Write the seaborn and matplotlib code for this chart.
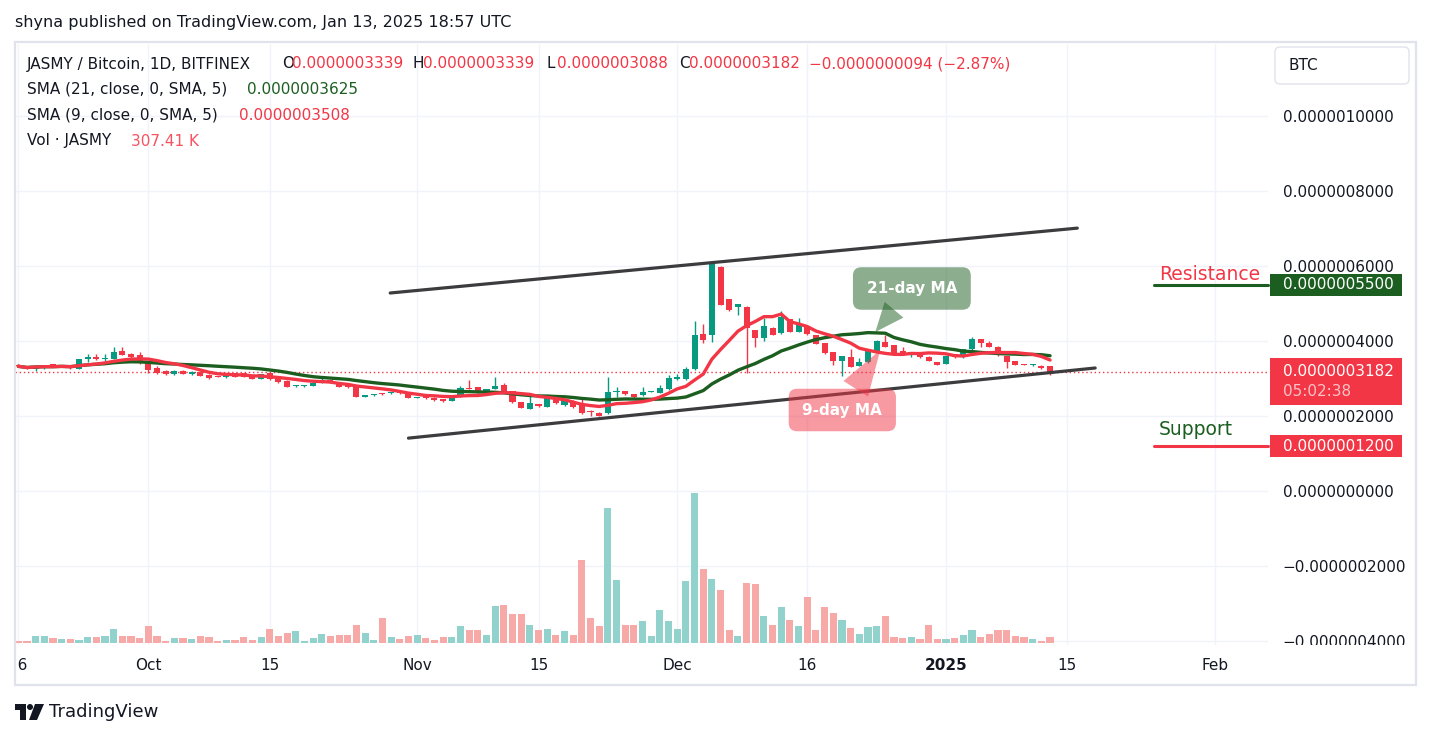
import numpy as np
import pandas as pd
import matplotlib
matplotlib.use("Agg")
import matplotlib.pyplot as plt
import matplotlib.dates as mdates
from matplotlib.patches import Rectangle, FancyBboxPatch, Polygon, Circle
from matplotlib.transforms import blended_transform_factory
import seaborn as sns

# ---------------- data (prices in units of 1e-7 BTC, volume in thousands) ----------------
first_day = "2024-09-16"
opens = [3.36, 3.298, 3.244, 3.271, 3.387, 3.333, 3.36, 3.262, 3.529, 3.564,
         3.511, 3.529, 3.733, 3.653, 3.627, 3.44, 3.28, 3.209, 3.111, 3.209,
         3.111, 3.182, 3.102, 3.06, 3.031, 3.156, 3.138, 3.093, 2.996, 3.156,
         3.013, 2.942, 2.79, 2.79, 2.809, 2.898, 2.96, 2.871, 2.827, 2.782,
         2.52, 2.551, 2.604, 2.613, 2.649, 2.631, 2.489, 2.56, 2.489, 2.453,
         2.409, 2.516, 2.747, 2.764, 2.622, 2.729, 2.827, 2.667, 2.373, 2.196,
         2.32, 2.249, 2.516, 2.293, 2.409, 2.293, 2.12, 2.089, 2.071, 2.64,
         2.658, 2.587, 2.551, 2.64, 2.622, 2.711, 2.978, 2.978, 3.244, 4.187,
         4.16, 5.982, 5.111, 4.916, 4.916, 4.293, 4.071, 4.356, 4.204, 4.587,
         4.249, 4.382, 4.16, 3.938, 3.716, 3.476, 3.582, 3.342, 3.431, 3.742,
         3.982, 3.893, 3.742, 3.69, 3.698, 3.582, 3.44, 3.387, 3.653, 3.564,
         3.778, 4.044, 3.938, 3.849, 3.60, 3.476, 3.386, 3.35, 3.342, 3.339]
highs = [3.38, 3.31, 3.34, 3.35, 3.40, 3.37, 3.37, 3.52, 3.653, 3.653,
         3.653, 3.831, 3.831, 3.67, 3.707, 3.45, 3.333, 3.22, 3.227, 3.22,
         3.19, 3.19, 3.11, 3.07, 3.09, 3.16, 3.15, 3.10, 3.13, 3.17,
         3.02, 2.95, 2.82, 2.82, 2.90, 3.004, 2.97, 2.88, 2.83, 2.79,
         2.56, 2.60, 2.62, 2.64, 2.66, 2.64, 2.52, 2.57, 2.50, 2.46,
         2.54, 2.80, 2.96, 2.78, 2.73, 3.031, 2.871, 2.68, 2.38, 2.56,
         2.33, 2.51, 2.53, 2.44, 2.42, 2.516, 2.16, 2.10, 3.049, 2.782,
         2.67, 2.60, 2.764, 2.67, 2.827, 3.093, 3.12, 3.316, 4.533, 4.453,
         6.071, 5.99, 5.12, 5.00, 4.93, 4.30, 4.604, 4.37, 4.80, 4.60,
         4.604, 4.39, 4.17, 3.95, 3.72, 3.61, 3.78, 3.538, 3.77, 4.02,
         4.16, 3.90, 3.849, 3.72, 3.71, 3.59, 3.45, 3.61, 3.66, 3.79,
         4.098, 4.05, 4.009, 3.86, 3.61, 3.48, 3.40, 3.39, 3.35, 3.339]
lows = [3.31, 3.25, 3.209, 3.26, 3.30, 3.32, 3.25, 3.25, 3.449, 3.50,
        3.476, 3.52, 3.618, 3.55, 3.39, 3.138, 3.111, 3.10, 3.10, 3.12,
        3.10, 3.06, 3.00, 3.03, 3.02, 3.04, 3.04, 2.98, 2.99, 2.96,
        2.88, 2.77, 2.78, 2.78, 2.80, 2.89, 2.88, 2.77, 2.75, 2.50,
        2.51, 2.54, 2.56, 2.60, 2.59, 2.47, 2.48, 2.46, 2.41, 2.38,
        2.40, 2.50, 2.72, 2.61, 2.61, 2.72, 2.61, 2.338, 2.21, 2.18,
        2.24, 2.24, 2.32, 2.28, 2.22, 2.06, 2.00, 2.00, 2.06, 2.516,
        2.57, 2.48, 2.54, 2.63, 2.61, 2.70, 2.97, 2.96, 3.23, 3.956,
        3.982, 4.95, 4.81, 4.693, 3.138, 3.849, 4.009, 4.15, 4.19, 4.23,
        4.24, 4.17, 3.91, 3.66, 3.36, 3.067, 3.30, 3.33, 3.42, 3.73,
        3.84, 3.68, 3.64, 3.582, 3.55, 3.46, 3.36, 3.38, 3.55, 3.55,
        3.77, 3.85, 3.84, 3.61, 3.271, 3.36, 3.36, 3.34, 3.26, 3.088]
closes = [3.325, 3.262, 3.333, 3.342, 3.316, 3.36, 3.271, 3.511, 3.564, 3.511,
          3.538, 3.707, 3.636, 3.564, 3.404, 3.227, 3.138, 3.111, 3.209, 3.129,
          3.182, 3.076, 3.022, 3.04, 3.084, 3.049, 3.049, 2.996, 3.12, 2.978,
          2.907, 2.782, 2.81, 2.81, 2.889, 2.96, 2.889, 2.782, 2.764, 2.516,
          2.545, 2.587, 2.578, 2.631, 2.604, 2.489, 2.507, 2.471, 2.427, 2.40,
          2.533, 2.738, 2.729, 2.622, 2.72, 2.80, 2.622, 2.382, 2.222, 2.356,
          2.258, 2.498, 2.338, 2.427, 2.231, 2.071, 2.10, 2.009, 2.631, 2.66,
          2.587, 2.498, 2.64, 2.66, 2.756, 3.022, 3.049, 3.253, 4.16, 4.027,
          6.071, 4.96, 4.827, 4.987, 4.338, 4.071, 4.40, 4.16, 4.649, 4.249,
          4.427, 4.187, 3.92, 3.671, 3.476, 3.60, 3.316, 3.431, 3.76, 4.009,
          3.849, 3.689, 3.653, 3.71, 3.564, 3.476, 3.369, 3.60, 3.564, 3.778,
          4.044, 3.956, 3.849, 3.618, 3.449, 3.369, 3.369, 3.369, 3.271, 3.182]
volumes_k = [108, 108, 360, 360, 252, 198, 198, 144, 306, 306,
             360, 738, 360, 360, 252, 900, 360, 90, 252, 252,
             198, 360, 306, 90, 144, 144, 306, 144, 306, 738,
             360, 522, 630, 90, 252, 468, 360, 414, 414, 954,
             522, 162, 1350, 324, 216, 378, 432, 270, 162, 324,
             324, 918, 702, 702, 432, 1998, 2052, 1566, 1566, 972,
             702, 756, 432, 648, 432, 4482, 1350, 918, 7290, 3402,
             972, 972, 1188, 378, 1782, 1188, 756, 3348, 8100, 3996,
             3456, 2844, 684, 360, 3222, 3168, 1440, 954, 1926, 1224,
             900, 2466, 684, 1926, 1602, 1224, 792, 468, 846, 900,
             1440, 306, 252, 306, 198, 954, 198, 198, 252, 414,
             684, 306, 468, 684, 684, 360, 306, 198, 90, 307.41]
price_unit = 1e-7

price_ticks = [-4, -2, 0, 2, 4, 6, 8, 10]
date_ticks = ["2024-09-16", "2024-10-01", "2024-10-15", "2024-11-01", "2024-11-15",
              "2024-12-01", "2024-12-16", "2025-01-01", "2025-01-15", "2025-02-01"]
date_labels = ["16", "Oct", "15", "Nov", "15", "Dec", "16", "2025", "15", "Feb"]

channel_upper_dates = ["2024-10-28 21:30", "2025-01-16 03:30"]
channel_upper_prices = [5.28, 7.01]
channel_lower_dates = ["2024-10-31 00:00", "2025-01-18 05:00"]
channel_lower_prices = [1.41, 3.28]
resistance_price = 5.5
support_price = 1.2
levels_from = "2025-01-25"
last_close = 3.182

ma21_label_at = ("2024-12-28 01:30", 5.40)
ma21_points_to = ("2024-12-23 20:30", 4.24)
ma9_label_at = ("2024-12-20 01:00", 2.16)
ma9_points_to = ("2024-12-24 10:00", 3.76)

# ---------------- style / layout ----------------
W, H = 1431, 738
PLOT_L, PLOT_R, PLOT_T, PLOT_B = 15, 1268, 44, 647
FIRST_X = 18.3
DAY_PX = 8.67
ZERO_Y = 491
PX_PER_UNIT = 37.5
VOL_BASE_Y = 643
VOL_K_PER_PX = 54

GREEN = "#089981"
RED = "#f23645"
DKGREEN = "#1b5e20"
TXT = "#131722"
GRID = "#f0f3fa"

sns.set_theme(style="white")
plt.rcParams["font.family"] = ["DejaVu Sans"]
FS = 11

fig = plt.figure(figsize=(W / 100, H / 100), dpi=100, facecolor="white")


def fig_rect(l, t, r, b):
    return [l / W, 1 - b / H, (r - l) / W, (b - t) / H]


def tn(s):
    return mdates.date2num(pd.Timestamp(s))


dates = pd.date_range(first_day, periods=len(closes), freq="D")
xn = mdates.date2num(dates)
o = np.array(opens) * price_unit
h = np.array(highs) * price_unit
l = np.array(lows) * price_unit
c = np.array(closes) * price_unit
up = c >= o
ccol = np.where(up, GREEN, RED)
vcol = np.where(up, "#92d2cc", "#f7a9a7")

x0 = xn[0] - (FIRST_X - PLOT_L) / DAY_PX
x1 = xn[0] + (PLOT_R - FIRST_X) / DAY_PX

ax = fig.add_axes(fig_rect(PLOT_L, PLOT_T, PLOT_R, PLOT_B))
ax.set_facecolor("white")
ax_v = ax.twinx()
ax.yaxis.tick_right()
ax.set_xlim(x0, x1)
ax.set_ylim((ZERO_Y - PLOT_B) / PX_PER_UNIT * price_unit,
            (ZERO_Y - PLOT_T) / PX_PER_UNIT * price_unit)
for a in (ax, ax_v):
    for s in a.spines.values():
        s.set_visible(False)

# grid
ax.set_xticks([tn(d) for d in date_ticks])
ax.set_xticklabels([])
ax.set_yticks([v * price_unit for v in price_ticks])
ax.set_yticklabels([f"{v * price_unit:.10f}".replace("-", "\u2212") for v in price_ticks])
ax.tick_params(axis="x", length=0)
ax.tick_params(axis="y", length=0, pad=10.5, labelsize=FS, labelcolor=TXT,
               right=True, labelright=True, left=False, labelleft=False)
ax.grid(True, color=GRID, lw=1)
ax.set_axisbelow(True)

# volume
ax_v.set_ylim((VOL_BASE_Y - PLOT_B) * VOL_K_PER_PX, (VOL_BASE_Y - PLOT_T) * VOL_K_PER_PX)
ax_v.bar(xn, volumes_k, width=0.82, color=vcol, linewidth=0)
ax_v.yaxis.set_visible(False)
ax_v.set_xlim(x0, x1)

# price line
ax.axhline(last_close * price_unit, color=RED, lw=1, ls=(0, (1, 2)), zorder=1.5)

# candles
ax.vlines(xn, l, h, colors=ccol, lw=1, zorder=3)
body = np.maximum(np.abs(c - o), 0.03 * price_unit)
ax.bar(xn, body, bottom=np.minimum(o, c), width=0.7, color=ccol, linewidth=0, zorder=4)

# moving averages
df = pd.DataFrame({"x": xn, "close": c})
df["SMA 21"] = df["close"].rolling(21, min_periods=1).mean()
df["SMA 9"] = df["close"].rolling(9, min_periods=1).mean()
sns.lineplot(data=df, x="x", y="SMA 21", ax=ax, color=DKGREEN, lw=2.4, zorder=5)
sns.lineplot(data=df, x="x", y="SMA 9", ax=ax, color=RED, lw=2.4, zorder=5.5)
ax.set_xlabel("")
ax.set_ylabel("")
ax.set_xlim(x0, x1)

# channel lines
for ds, ps in ((channel_upper_dates, channel_upper_prices), (channel_lower_dates, channel_lower_prices)):
    ax.plot([tn(d) for d in ds], np.array(ps) * price_unit, color="#3c3c3e", lw=2.3,
            solid_capstyle="round", zorder=6)

# resistance / support
lx = tn(levels_from)
ax.plot([lx, x1], [resistance_price * price_unit] * 2, color=DKGREEN, lw=2.2, zorder=6, clip_on=False)
ax.plot([lx, x1], [support_price * price_unit] * 2, color=RED, lw=2.2, zorder=6, clip_on=False)
ax.annotate("Resistance", xy=(lx, resistance_price * price_unit), xytext=(5, 5),
            textcoords="offset pixels", ha="left", va="baseline", fontsize=13.5, color=RED, zorder=7)
ax.annotate("Support", xy=(lx, support_price * price_unit), xytext=(5, 11),
            textcoords="offset pixels", ha="left", va="baseline", fontsize=13.5, color=DKGREEN, zorder=7)

# callouts
for txt, at, to, rgb, tw in (("21-day MA", ma21_label_at, ma21_points_to, (27 / 255, 94 / 255, 32 / 255), 1.6),
                             ("9-day MA", ma9_label_at, ma9_points_to, (242 / 255, 54 / 255, 69 / 255), 1.9)):
    fc = rgb + (0.5,)
    ax.annotate(txt, xy=(tn(to[0]), to[1] * price_unit), xytext=(tn(at[0]), at[1] * price_unit),
                ha="center", va="center", color="white", fontsize=11, fontweight="bold", zorder=8,
                bbox=dict(boxstyle="round,pad=0.9,rounding_size=0.55", fc=fc, ec="none"),
                arrowprops=dict(arrowstyle=f"wedge,tail_width={tw},shrink_factor=0.5", fc=fc, ec="none",
                                shrinkA=0, shrinkB=0))

# right-side badges
bt = blended_transform_factory(ax.transAxes, ax.transData)
pw = PLOT_R - PLOT_L
bx = 1 + 2 / pw
bw = 132 / pw
tx = 1 + 15 / pw


def badge(price, top_px, bot_px, color, lines):
    y_top = (price + top_px / PX_PER_UNIT) * price_unit
    y_bot = (price - bot_px / PX_PER_UNIT) * price_unit
    ax.add_patch(Rectangle((bx, y_bot), bw, y_top - y_bot, transform=bt, color=color,
                           clip_on=False, zorder=10, linewidth=0))
    for text, off, col in lines:
        ax.text(tx, (price - off / PX_PER_UNIT) * price_unit, text, transform=bt, ha="left",
                va="center", color=col, fontsize=FS, clip_on=False, zorder=11)


badge(resistance_price, 11, 11, DKGREEN, [(f"{resistance_price * price_unit:.10f}", 0, "white")])
badge(last_close, 14, 33, RED, [(f"{last_close * price_unit:.10f}", 0, "white"),
                                ("05:02:38", 20, "#fbc3c8")])
badge(support_price, 11, 11, RED, [(f"{support_price * price_unit:.10f}", 0, "white")])

# date strip
DS_L, DS_T, DS_R, DS_B = 18, 645, 1415, 684
dax = fig.add_axes(fig_rect(DS_L, DS_T, DS_R, DS_B), zorder=5)
dax.set_facecolor("white")
for s in dax.spines.values():
    s.set_visible(False)
dax.set_xticks([])
dax.set_yticks([])
dax.set_xlim(xn[0] - (FIRST_X - DS_L) / DAY_PX, xn[0] + (DS_R - FIRST_X) / DAY_PX)
dax.set_ylim(0, 1)
for d, lab in zip(date_ticks, date_labels):
    dax.text(tn(d), (DS_B - 665) / (DS_B - DS_T), lab, ha="center", va="center", fontsize=FS,
             color=TXT, fontweight="bold" if lab == "2025" else "normal", clip_on=True)

# header texts
def ftext(x, y, s, **kw):
    fig.text(x / W, 1 - y / H, s, va="center", ha="left", **kw)


ftext(15, 22, "shyna published on TradingView.com, Jan 13, 2025 18:57 UTC", fontsize=11.5, color=TXT)
ftext(27, 64, "JASMY / Bitcoin, 1D, BITFINEX", fontsize=FS, color=TXT)
for lab, lx_, val, vx in (("O", 282, "0.0000003339", 292), ("H", 413, "0.0000003339", 423),
                          ("L", 547, "0.0000003088", 557), ("C", 679, "0.0000003182", 689)):
    ftext(lx_, 64, lab, fontsize=FS, color=TXT)
    ftext(vx, 64, val, fontsize=FS, color=RED)
ftext(809, 64, "\u22120.0000000094 (\u22122.87%)", fontsize=FS, color=RED)
ftext(27, 89, "SMA (21, close, 0, SMA, 5)", fontsize=FS, color=TXT)
ftext(247, 89, "0.0000003625", fontsize=FS, color=DKGREEN)
ftext(27, 115, "SMA (9, close, 0, SMA, 5)", fontsize=FS, color=TXT)
ftext(239, 115, "0.0000003508", fontsize=FS, color=RED)
ftext(27, 141, "Vol \u00b7 JASMY", fontsize=FS, color=TXT)
ftext(131, 141, "307.41 K", fontsize=FS, color="#f7525f")

# BTC box and frame
def P(x, y):
    return (x / 100, (H - y) / 100)


fig.add_artist(FancyBboxPatch(P(1275, 84), 1.34, 0.37, boxstyle="round,pad=0,rounding_size=0.05",
                              transform=fig.dpi_scale_trans, fc="white", ec="#e0e3eb", lw=1, zorder=12))
ftext(1289, 66, "BTC", fontsize=FS, color=TXT, zorder=13)
fig.add_artist(Rectangle(P(15, 685), 14.01, 6.43, transform=fig.dpi_scale_trans, fill=False,
                         ec="#e0e3eb", lw=1.6, zorder=20))

# TradingView logo
for poly in ([P(15, 704), P(26, 704), P(26, 720), P(20, 720), P(20, 710), P(15, 710)],
             [P(35, 704), P(44, 704), P(37, 720), P(29, 720)]):
    fig.add_artist(Polygon(poly, closed=True, transform=fig.dpi_scale_trans, fc=TXT, ec="none"))
fig.add_artist(Circle(P(30, 707), 0.03, transform=fig.dpi_scale_trans, fc=TXT, ec="none"))
ftext(49, 712, "TradingView", fontsize=13, color=TXT)

fig.savefig("out.png", dpi=100, facecolor="white")
